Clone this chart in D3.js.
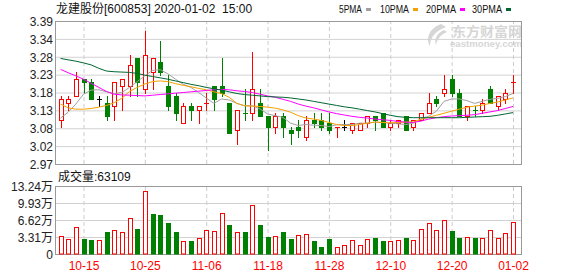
<!DOCTYPE html>
<html>
<head>
<meta charset="utf-8">
<script src="https://cdn.jsdelivr.net/npm/d3@7"></script>
<style>
body { margin: 0; background: #fff; }
text { font-family: "Liberation Sans", "Noto Sans CJK SC", sans-serif; }
</style>
</head>
<body>
<svg id="chart" width="578" height="276"></svg>
<script>
// trading days shown on the chart
var dates = ["10-10","10-11","10-14","10-15","10-16","10-17","10-18","10-21","10-22","10-23",
  "10-24","10-25","10-28","10-29","10-30","10-31","11-01","11-04","11-05","11-06",
  "11-07","11-08","11-11","11-12","11-13","11-14","11-15","11-18","11-19","11-20",
  "11-21","11-22","11-25","11-26","11-27","11-28","11-29","12-02","12-03","12-04",
  "12-05","12-06","12-09","12-10","12-11","12-12","12-13","12-16","12-17","12-18",
  "12-19","12-20","12-23","12-24","12-25","12-26","12-27","12-30","12-31","01-02"];

var open = [3.10,3.15,3.17,3.22,3.21,3.16,3.15,3.14,3.20,3.20,3.28,3.19,3.24,3.27,3.20,3.17,3.09,3.14,3.13,3.15,
  3.20,3.20,3.15,3.07,3.12,3.12,3.15,3.11,3.08,3.11,3.07,3.08,3.05,3.10,3.10,3.09,3.08,3.08,3.07,3.07,
  3.09,3.11,3.12,3.08,3.09,3.11,3.08,3.10,3.12,3.16,3.18,3.22,3.18,3.11,3.13,3.13,3.19,3.14,3.16,3.21];
var high = [3.17,3.17,3.24,3.22,3.22,3.17,3.17,3.21,3.22,3.29,3.28,3.36,3.28,3.33,3.23,3.18,3.15,3.15,3.14,3.18,
  3.20,3.28,3.15,3.13,3.19,3.30,3.19,3.11,3.12,3.12,3.08,3.10,3.11,3.12,3.12,3.12,3.08,3.10,3.09,3.09,
  3.11,3.11,3.12,3.10,3.10,3.11,3.10,3.12,3.18,3.17,3.23,3.23,3.19,3.14,3.14,3.16,3.20,3.17,3.19,3.23];
var low = [3.08,3.13,3.17,3.18,3.16,3.14,3.10,3.10,3.13,3.17,3.17,3.18,3.19,3.23,3.13,3.10,3.09,3.10,3.09,3.13,
  3.13,3.17,3.06,3.03,3.10,3.10,3.11,3.01,3.06,3.05,3.03,3.05,3.04,3.08,3.07,3.06,3.05,3.07,3.06,3.07,
  3.08,3.07,3.08,3.07,3.08,3.07,3.07,3.10,3.12,3.14,3.17,3.17,3.11,3.10,3.11,3.12,3.15,3.13,3.15,3.18];
var close = [3.16,3.16,3.22,3.21,3.16,3.16,3.11,3.21,3.22,3.26,3.21,3.29,3.28,3.24,3.14,3.12,3.14,3.13,3.14,3.15,
  3.16,3.18,3.06,3.13,3.12,3.19,3.11,3.08,3.11,3.08,3.06,3.07,3.10,3.09,3.08,3.07,3.08,3.08,3.09,3.09,
  3.11,3.10,3.08,3.09,3.10,3.07,3.10,3.12,3.15,3.15,3.19,3.18,3.11,3.14,3.13,3.15,3.15,3.17,3.18,3.21];
var volume = [35970,28250,52680,28250,26340,26340,42400,46900,43690,70020,
  49470,122060,78380,76450,61030,42400,24410,24410,31480,46900,
  45610,79660,57180,43040,42400,95080,57180,34050,35330,42400,
  28250,37260,39830,24410,12850,28250,14130,17990,26340,17990,
  28250,30190,24410,24410,27620,30190,26340,48820,61030,47540,
  66810,45610,32120,34050,32120,32120,46900,32120,41760,63109];

// moving averages as drawn on the chart
var ma5 = [3.105,3.122,3.146,3.175,3.187,3.188,3.182,3.177,3.18,3.195,3.212,3.229,3.245,3.247,3.235,3.219,3.204,3.195,3.18,3.164,
  3.148,3.161,3.158,3.148,3.141,3.141,3.132,3.117,3.112,3.107,3.09,3.083,3.086,3.084,3.083,3.08,3.085,3.086,3.086,3.09,
  3.09,3.093,3.092,3.09,3.088,3.086,3.09,3.103,3.11,3.125,3.154,3.161,3.161,3.156,3.148,3.154,3.16,3.163,3.168,3.177];
var ma10 = [3.146,3.135,3.131,3.131,3.133,3.137,3.142,3.15,3.163,3.183,3.195,3.205,3.212,3.214,3.212,3.206,3.201,3.197,3.192,3.188,
  3.182,3.177,3.166,3.148,3.141,3.14,3.139,3.137,3.134,3.129,3.122,3.112,3.105,3.102,3.098,3.092,3.086,3.083,3.083,3.086,
  3.09,3.093,3.092,3.091,3.092,3.093,3.094,3.101,3.107,3.113,3.119,3.125,3.131,3.137,3.14,3.143,3.148,3.152,3.158,3.164];
var ma20 = [3.248,3.238,3.229,3.219,3.207,3.195,3.183,3.175,3.173,3.172,3.171,3.17,3.172,3.174,3.176,3.178,3.18,3.182,3.184,3.186,
  3.188,3.189,3.188,3.185,3.183,3.18,3.175,3.17,3.166,3.16,3.154,3.146,3.14,3.135,3.129,3.123,3.118,3.114,3.11,3.107,
  3.105,3.102,3.1,3.098,3.095,3.093,3.092,3.096,3.102,3.106,3.109,3.111,3.112,3.113,3.115,3.119,3.123,3.127,3.133,3.139];
var ma30 = [3.28,3.276,3.272,3.267,3.261,3.251,3.243,3.241,3.24,3.239,3.236,3.231,3.227,3.223,3.219,3.214,3.209,3.204,3.2,3.195,
  3.191,3.187,3.182,3.177,3.174,3.172,3.17,3.168,3.167,3.166,3.164,3.161,3.158,3.154,3.15,3.146,3.142,3.138,3.135,3.131,
  3.127,3.123,3.118,3.113,3.109,3.107,3.106,3.106,3.106,3.106,3.106,3.106,3.106,3.107,3.108,3.109,3.11,3.113,3.117,3.121];

var priceTicks = [2.97, 3.0225, 3.075, 3.1275, 3.18, 3.2325, 3.285, 3.3375, 3.39];
var priceLabels = ["2.97","3.02","3.08","3.13","3.18","3.23","3.28","3.34","3.39"];
var volTicks = [0, 33100, 66200, 99300, 132400];
var volLabels = ["0","3.31万","6.62万","9.93万","13.24万"];
var tickDates = ["10-15","10-25","11-06","11-18","11-28","12-10","12-20","01-02"];

var maNames = ["5PMA","10PMA","20PMA","30PMA"];
var maColors = ["#a0a0a0","#f5a000","#ff00ff","#006633"];

var RED = "#ff0000", GREEN = "#008000";

var svg = d3.select("#chart");
var left = 56, right = 522;
var pTop = 21, pBottom = 164, vTop = 186, vBottom = 254;

var x = d3.scalePoint().domain(dates).range([60.5, 513]);
var y = d3.scaleLinear().domain([2.97, 3.39]).range([pBottom, pTop]);
var yv = d3.scaleLinear().domain([0, 132400]).range([vBottom, vTop]);

var candles = dates.map(function (d, i) {
    return {date: d, o: open[i], h: high[i], l: low[i], c: close[i], v: volume[i], i: i};
});

//candle colour: close vs open, doji compares with previous close
function candleColor(d) {
    if (d.c > d.o) return RED;
    if (d.c < d.o) return GREEN;
    if (d.i == 0) return "#000";
    var p = close[d.i - 1];
    return d.c > p ? RED : (d.c < p ? GREEN : "#000");
}
//volume colour: close vs previous close
function volColor(d) {
    if (d.i == 0) return RED;
    return d.c >= close[d.i - 1] ? RED : GREEN;
}

// watermark
var wm = svg.append("g").attr("fill", "#d6d6d6");
wm.append("path")
    .attr("d", "M441,24 C430,28 425,38 430,46 C430,38 435,31 446,27 Z M444,30 C437,33 434,39 436,45 C437,40 440,35 447,32 Z");
wm.append("text").attr("x", 452).attr("y", 35.5)
    .attr("font-size", 13).attr("font-weight", "bold")
    .attr("textLength", 70).attr("lengthAdjust", "spacingAndGlyphs")
    .text("东方财富网");
wm.append("text").attr("x", 450).attr("y", 47)
    .attr("font-size", 9).attr("font-weight", "bold")
    .attr("textLength", 72).attr("lengthAdjust", "spacingAndGlyphs")
    .text("eastmoney.com");

// horizontal grid lines
svg.append("g")
    .attr("transform", "translate(" + left + ",0)")
    .call(d3.axisLeft(y).tickValues(priceTicks).tickSize(-(right - left)).tickFormat(""))
    .call(function (g) { g.select(".domain").remove(); })
    .selectAll("line").attr("stroke", "#d2d2d2");
svg.append("g")
    .attr("transform", "translate(" + left + ",0)")
    .call(d3.axisLeft(yv).tickValues(volTicks).tickSize(-(right - left)).tickFormat(""))
    .call(function (g) { g.select(".domain").remove(); })
    .selectAll("line").attr("stroke", "#d2d2d2");

// vertical dashed grid lines
[[pTop, pBottom], [vTop, vBottom]].forEach(function (r) {
    svg.append("g")
        .attr("transform", "translate(0," + r[1] + ")")
        .call(d3.axisBottom(x).tickValues(tickDates).tickSize(-(r[1] - r[0])).tickFormat(""))
        .call(function (g) { g.select(".domain").remove(); })
        .selectAll("line").attr("stroke", "#cccccc").attr("stroke-dasharray", "4,3");
});

// frames
svg.append("rect").attr("x", left - 0.5).attr("y", pTop + 0.5)
    .attr("width", right - left).attr("height", pBottom - pTop)
    .attr("fill", "none").attr("stroke", "#999");
svg.append("rect").attr("x", left - 0.5).attr("y", vTop + 0.5)
    .attr("width", right - left).attr("height", vBottom - vTop)
    .attr("fill", "none").attr("stroke", "#999");

// y labels
svg.append("g")
    .attr("transform", "translate(" + left + ",0.5)")
    .call(d3.axisLeft(y).tickValues(priceTicks).tickSize(0).tickPadding(3)
        .tickFormat(function (d, i) { return priceLabels[i]; }))
    .call(function (g) { g.select(".domain").remove(); })
    .selectAll("text").attr("font-size", 12).attr("fill", "#222")
    .attr("font-family", "'Liberation Sans','Noto Sans CJK SC',sans-serif");
svg.append("g")
    .attr("transform", "translate(" + left + ",0.5)")
    .call(d3.axisLeft(yv).tickValues(volTicks).tickSize(0).tickPadding(3)
        .tickFormat(function (d, i) { return volLabels[i]; }))
    .call(function (g) { g.select(".domain").remove(); })
    .selectAll("text").attr("font-size", 12).attr("fill", "#222")
    .attr("font-family", "'Liberation Sans','Noto Sans CJK SC',sans-serif");

// x labels
svg.append("g")
    .attr("transform", "translate(0," + vBottom + ")")
    .call(d3.axisBottom(x).tickValues(tickDates).tickSize(0).tickPadding(7))
    .call(function (g) { g.select(".domain").remove(); })
    .selectAll("text").attr("font-size", 12).attr("fill", RED)
    .attr("font-family", "'Liberation Sans',sans-serif");

// candles
var cg = svg.append("g");
candles.forEach(function (d) {
    var cx = Math.round(x(d.date));
    var col = candleColor(d);
    cg.append("line")
        .attr("x1", cx + 0.5).attr("x2", cx + 0.5)
        .attr("y1", Math.round(y(d.h))).attr("y2", Math.round(y(d.l)) + 1)
        .attr("stroke", col);
    var yo = Math.round(y(d.o)), yc = Math.round(y(d.c));
    if (d.c > d.o) {
        cg.append("rect").attr("x", cx - 1.5).attr("y", yc + 0.5)
            .attr("width", 4).attr("height", yo - yc)
            .attr("fill", "#fff").attr("stroke", col);
    } else if (d.c < d.o) {
        cg.append("rect").attr("x", cx - 2).attr("y", yo)
            .attr("width", 5).attr("height", Math.max(1, yc - yo + 1))
            .attr("fill", col);
    } else {
        cg.append("line").attr("x1", cx - 2).attr("x2", cx + 3)
            .attr("y1", yo + 0.5).attr("y2", yo + 0.5)
            .attr("stroke", col);
    }
});

// moving average lines
[ma5, ma10, ma20, ma30].forEach(function (ma, k) {
    svg.append("path")
        .datum(ma)
        .attr("fill", "none")
        .attr("stroke", maColors[k])
        .attr("stroke-width", 1)
        .attr("d", d3.line()
            .x(function (d, i) { return x(dates[i]); })
            .y(function (d) { return y(d); }));
});

// volume bars
var vg = svg.append("g");
candles.forEach(function (d) {
    var cx = Math.round(x(d.date));
    var col = volColor(d);
    var top = Math.round(yv(d.v));
    if (col == RED) {
        vg.append("rect").attr("x", cx - 1.5).attr("y", top + 0.5)
            .attr("width", 4).attr("height", vBottom - top - 0.5)
            .attr("fill", "#fff").attr("stroke", col);
    } else {
        vg.append("rect").attr("x", cx - 2).attr("y", top)
            .attr("width", 5).attr("height", vBottom - top + 0.5)
            .attr("fill", col);
    }
});

// title
svg.append("text").attr("x", 56).attr("y", 13)
    .attr("font-size", 12).attr("fill", "#111")
    .style("white-space", "pre")
    .text("龙建股份[600853] 2020-01-02  15:00");

// volume caption
svg.append("text").attr("x", 58).attr("y", 181)
    .attr("font-size", 12).attr("fill", "#111")
    .text("成交量:" + volume[volume.length - 1]);

// legend
var legX = [339, 380, 426, 472];
var legW = [23, 29, 30, 30];
maNames.forEach(function (n, k) {
    svg.append("text").attr("x", legX[k]).attr("y", 12.5)
        .attr("font-size", 11).attr("fill", "#111")
        .attr("textLength", legW[k]).attr("lengthAdjust", "spacingAndGlyphs")
        .text(n);
    svg.append("rect").attr("x", legX[k] + legW[k] + 4).attr("y", 8)
        .attr("width", 5).attr("height", 3)
        .attr("fill", maColors[k]);
});
</script>
</body>
</html>
